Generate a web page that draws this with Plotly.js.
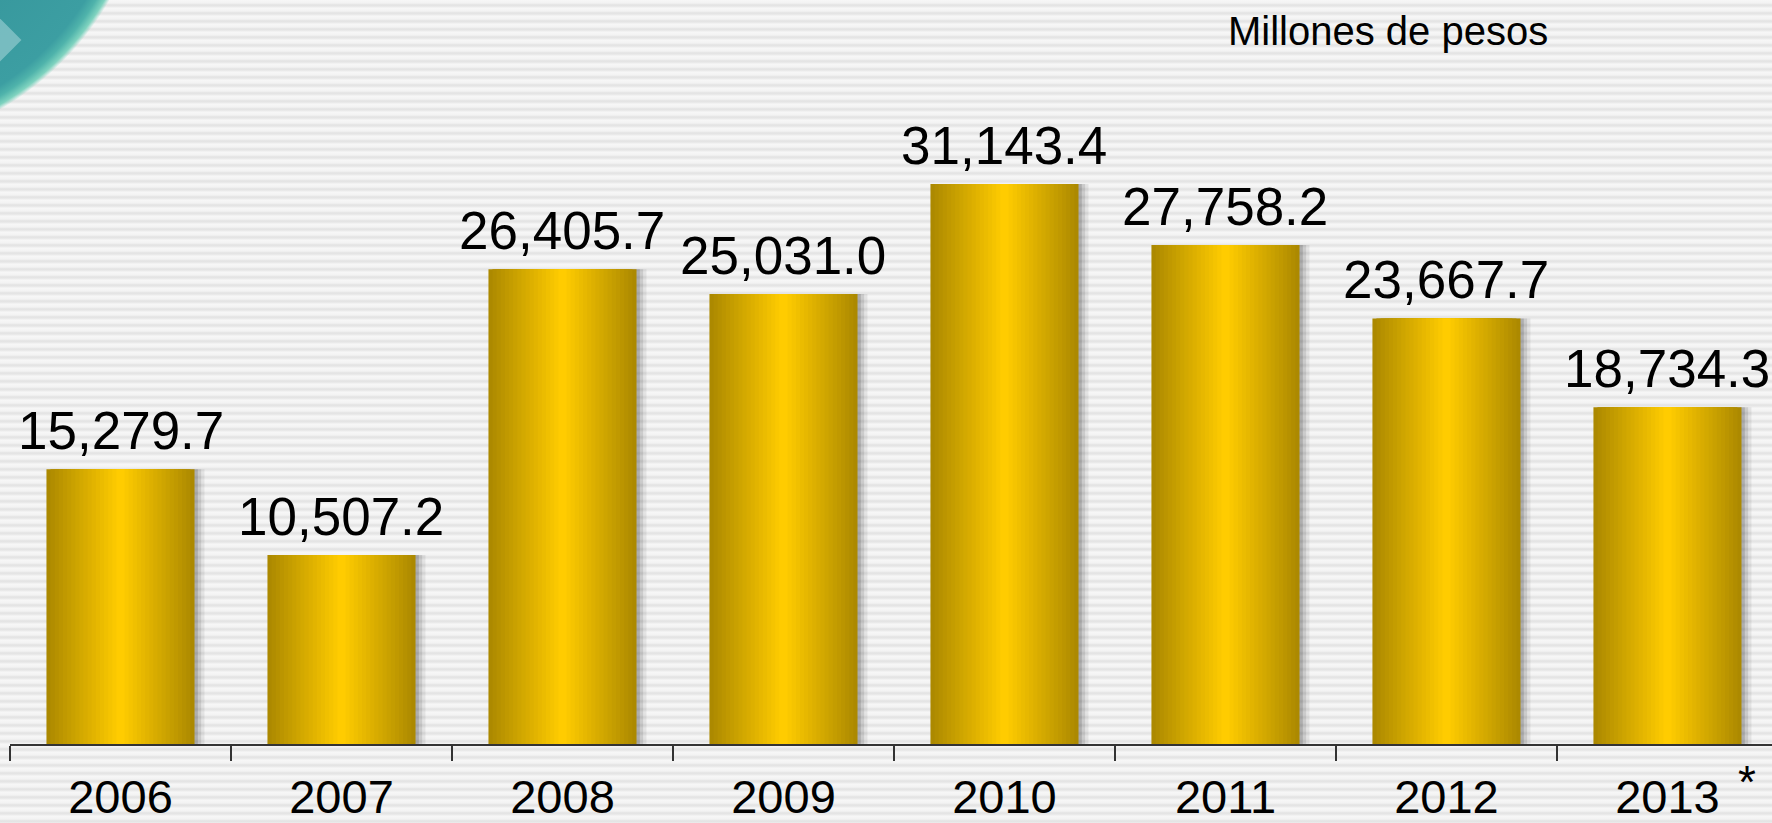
<!DOCTYPE html>
<html>
<head>
<meta charset="utf-8">
<script src="https://cdn.plot.ly/plotly-3.0.1.min.js"></script>
<style>
  html, body { margin: 0; padding: 0; }
  body {
    width: 1772px; height: 823px; overflow: hidden; position: relative;
    background: repeating-linear-gradient(to bottom, #f7f7f7 0px, #f3f3f3 3px, #e2e2e2 5px, #ececec 7px, #f7f7f7 8px);
  }
  #corner {
    position: absolute; left: 0; top: 0; width: 170px; height: 170px;
    background: radial-gradient(circle 300px at -150px -150px, #2c8a91 0%, #3c9ea2 93%, #4fb3ab 96%, #7fd3bf 98.5%, rgba(255,255,255,0) 100%);
  }
  #diamond {
    position: absolute; left: -22px; top: 22px; width: 36px; height: 36px;
    transform: rotate(45deg); background: rgba(170,215,218,0.55);
  }
  #chart { position: absolute; left: 0; top: 0; }
</style>
</head>
<body>
<div id="corner"></div>
<div id="diamond"></div>
<div id="chart"></div>
<script>
// ---- data ----
const years = ['2006', '2007', '2008', '2009', '2010', '2011', '2012', '2013'];
const values = [15279.7, 10507.2, 26405.7, 25031.0, 31143.4, 27758.2, 23667.7, 18734.3];
const valueLabels = ['15,279.7', '10,507.2', '26,405.7', '25,031.0', '31,143.4', '27,758.2', '23,667.7', '18,734.3'];
const unitsLabel = 'Millones de pesos';
const footnoteMark = '*';
const footnoteYear = '2013';

// ---- styling ----
const BAR_W = 0.67;
const edgeColor = [172, 137, 0];
const centerColor = [255, 204, 0];
const N = 18;
const FONT = 'Liberation Sans, Arial, sans-serif';

function lerp(a, b, t) { return Math.round(a + (b - a) * t); }

const traces = [];
// soft shadow to the right
[[0.045, 0.07], [0.03, 0.10], [0.015, 0.14]].forEach(function (s) {
  traces.push({
    type: 'bar', x: years, y: values,
    width: BAR_W, offset: -BAR_W / 2 + s[0],
    marker: { color: 'rgba(0,0,0,' + s[1] + ')', line: { width: 0 } },
    hoverinfo: 'skip', showlegend: false
  });
});
// horizontal gradient built from nested overlay bars
for (let i = 0; i < N; i++) {
  const w = BAR_W * (1 - i / N);
  const t = i / (N - 1);
  const c = 'rgb(' + lerp(edgeColor[0], centerColor[0], t) + ',' +
    lerp(edgeColor[1], centerColor[1], t) + ',' + lerp(edgeColor[2], centerColor[2], t) + ')';
  traces.push({
    type: 'bar', x: years, y: values,
    width: w, offset: -w / 2,
    marker: { color: c, line: { width: 0 } },
    hoverinfo: i === 0 ? 'x+y' : 'skip', showlegend: false
  });
}

const annotations = years.map(function (yr, i) {
  return {
    x: i, y: values[i], xref: 'x', yref: 'y',
    text: valueLabels[i], showarrow: false,
    xanchor: 'center', yanchor: 'bottom', yshift: 7,
    font: { family: FONT, size: 53, color: '#000' }
  };
});
annotations.push({
  xref: 'paper', yref: 'paper', x: (1226 - 10) / 1762, y: 1,
  xanchor: 'left', yanchor: 'top', yshift: -7,
  text: unitsLabel, showarrow: false,
  font: { family: FONT, size: 40, color: '#000' }
});
annotations.push({
  x: years.indexOf(footnoteYear), xref: 'x', yref: 'paper', y: 0,
  xanchor: 'center', yanchor: 'top', xshift: 80, yshift: -10,
  text: footnoteMark, showarrow: false,
  font: { family: FONT, size: 46, color: '#000' }
});

const layout = {
  width: 1772, height: 823,
  margin: { l: 10, r: 0, t: 0, b: 79, pad: 0 },
  paper_bgcolor: 'rgba(0,0,0,0)',
  plot_bgcolor: 'rgba(0,0,0,0)',
  barmode: 'overlay',
  showlegend: false,
  xaxis: {
    type: 'category', range: [-0.5, 7.473],
    tickson: 'boundaries', ticks: 'outside', ticklen: 15, tickwidth: 1.3, tickcolor: '#333',
    showline: true, linecolor: '#333', linewidth: 1.5,
    showgrid: false, zeroline: false,
    tickfont: { family: FONT, size: 47, color: '#000' },
    ticklabelstandoff: 11
  },
  yaxis: {
    range: [0, 41380], visible: false, showgrid: false, zeroline: false, fixedrange: true
  },
  annotations: annotations
};

Plotly.newPlot('chart', traces, layout, { displayModeBar: false, staticPlot: true });
</script>
</body>
</html>
